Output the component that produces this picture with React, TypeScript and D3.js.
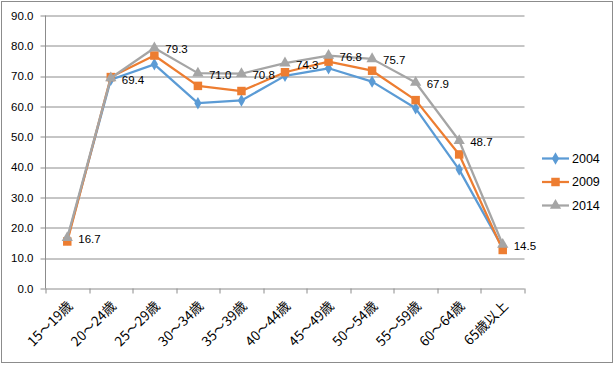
import * as d3 from "d3";
import React, { useRef, useEffect } from "react";

const categories = ["15～19歳", "20～24歳", "25～29歳", "30～34歳", "35～39歳", "40～44歳", "45～49歳", "50～54歳", "55～59歳", "60～64歳", "65歳以上"];
const years = ["2004", "2009", "2014"];
const values2004 = [16.2, 68.8, 73.9, 61.1, 62.0, 70.1, 72.6, 68.2, 59.4, 39.2, 13.4];
const values2009 = [15.5, 69.7, 76.8, 66.8, 65.1, 71.3, 74.8, 71.8, 62.1, 44.2, 12.7];
const values2014 = [16.7, 69.4, 79.3, 71.0, 70.8, 74.3, 76.8, 75.7, 67.9, 48.7, 14.5];
const yTicks = [0, 10, 20, 30, 40, 50, 60, 70, 80, 90];
const colors = ["#5B9BD5", "#ED7D31", "#A5A5A5"];

export default function App() {
  const svgRef = useRef<SVGSVGElement | null>(null);

  useEffect(() => {
    const width = 616;
    const height = 365;
    const margin = { top: 15.5, left: 45.5, right: 91.5, bottom: 76.5 };
    const chartW = width - margin.left - margin.right;
    const chartH = height - margin.top - margin.bottom;
    const font = "'Liberation Sans', Arial, sans-serif";

    const svg = d3.select(svgRef.current).attr("width", width).attr("height", height);
    svg.selectAll("*").remove();

    svg.append("rect")
      .attr("x", 1.5).attr("y", 1.5)
      .attr("width", 611).attr("height", 361)
      .attr("fill", "#fff").attr("stroke", "#8c8c8c");

    const g = svg.append("g").attr("transform", `translate(${margin.left},${margin.top})`);

    const x = d3.scaleBand().domain(categories).range([0, chartW]);
    const y = d3.scaleLinear().domain([0, 90]).range([chartH, 0]);

    // gridlines
    g.append("g").selectAll("line").data(yTicks).join("line")
      .attr("x1", -5).attr("x2", chartW)
      .attr("y1", d => Math.round(y(d)) + 0.5).attr("y2", d => Math.round(y(d)) + 0.5)
      .attr("stroke", "#8c8c8c").attr("stroke-width", 1);

    g.append("line")
      .attr("x1", 0).attr("x2", 0).attr("y1", 0).attr("y2", chartH)
      .attr("stroke", "#8c8c8c");

    g.append("g").selectAll("text").data(yTicks).join("text")
      .attr("x", -12).attr("y", d => y(d)).attr("dy", "0.35em")
      .attr("text-anchor", "end")
      .attr("font-family", font).attr("font-size", 11.5).attr("fill", "#000")
      .text(d => d.toFixed(1));

    // category ticks
    const tickXs = categories.map(c => x(c)!).concat([chartW]);
    g.append("g").selectAll("line").data(tickXs).join("line")
      .attr("x1", d => Math.round(d) + 0.5).attr("x2", d => Math.round(d) + 0.5)
      .attr("y1", chartH).attr("y2", chartH + 5)
      .attr("stroke", "#8c8c8c");

    g.append("g").selectAll("text").data(categories).join("text")
      .attr("transform", d => `translate(${x(d)! + x.bandwidth() / 2 + 3},${chartH + 15}) rotate(-45)`)
      .attr("text-anchor", "end").attr("dy", "0.35em")
      .attr("font-family", "'Noto Sans CJK JP', sans-serif").attr("font-size", 13.5).attr("fill", "#000")
      .text(d => d);

    const series = [values2004, values2009, values2014];
    const cx = (i: number) => x(categories[i])! + x.bandwidth() / 2;
    const line = d3.line<number>().x((d, i) => cx(i)).y(d => y(d));

    const symbols = [d3.symbolDiamond, d3.symbolSquare, d3.symbolTriangle];
    const sizes = [45, 72, 55];

    series.forEach((vals, si) => {
      g.append("path").datum(vals)
        .attr("fill", "none").attr("stroke", colors[si]).attr("stroke-width", 2.25)
        .attr("stroke-linejoin", "round")
        .attr("d", line);
      g.append("g").selectAll("path").data(vals).join("path")
        .attr("transform", (d, i) => `translate(${cx(i)},${y(d)})`)
        .attr("d", d3.symbol().type(symbols[si]).size(sizes[si])())
        .attr("fill", colors[si]);
    });

    g.append("g").selectAll("text").data(values2014).join("text")
      .attr("x", (d, i) => cx(i) + 11).attr("y", d => y(d) + 1.5).attr("dy", "0.35em")
      .attr("font-family", font).attr("font-size", 11.5).attr("fill", "#000")
      .text(d => d.toFixed(1));

    // legend
    const legend = svg.append("g");
    years.forEach((yr, i) => {
      const ly = 158.5 + i * 23.5;
      legend.append("line")
        .attr("x1", 542).attr("x2", 569).attr("y1", ly).attr("y2", ly)
        .attr("stroke", colors[i]).attr("stroke-width", 2.25);
      legend.append("path")
        .attr("transform", `translate(555.5,${ly})`)
        .attr("d", d3.symbol().type(symbols[i]).size(sizes[i])())
        .attr("fill", colors[i]);
      legend.append("text")
        .attr("x", 572).attr("y", ly).attr("dy", "0.35em")
        .attr("font-family", font).attr("font-size", 12.5).attr("fill", "#000")
        .text(yr);
    });
  }, []);

  return <svg ref={svgRef} style={{ position: "absolute", left: 0, top: 0 }} />;
}
